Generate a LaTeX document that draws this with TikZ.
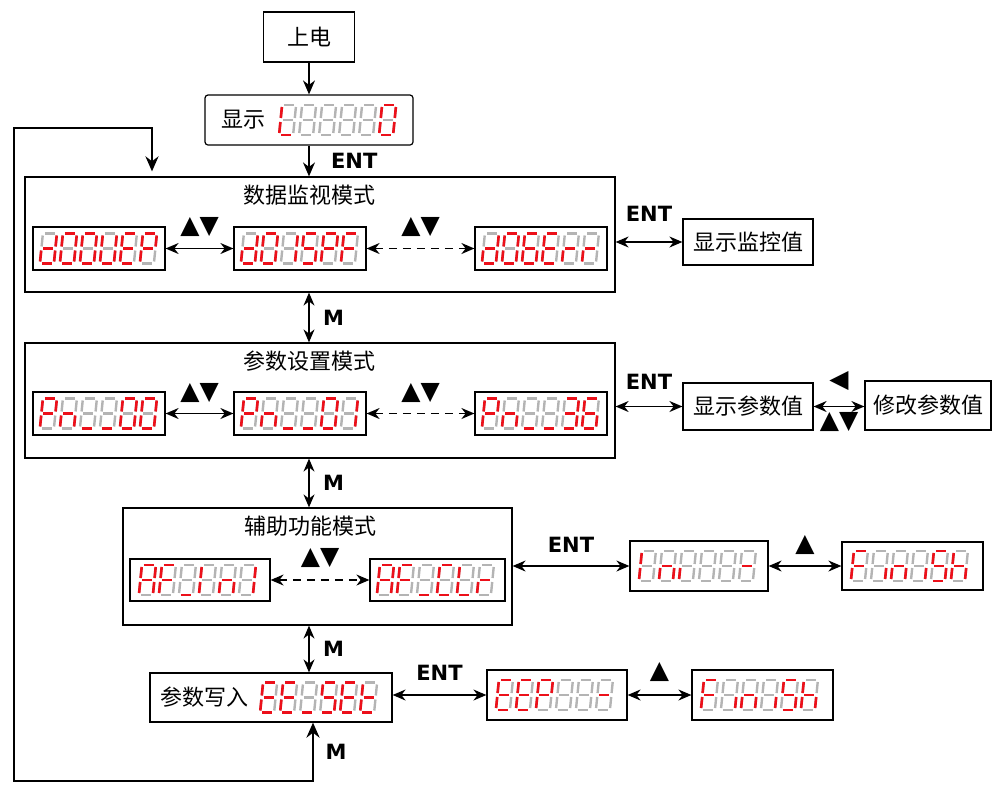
\documentclass[tikz,border=0pt]{standalone}
\usepackage{fontspec}
\usepackage{tikz}
\usetikzlibrary{arrows.meta}
\usepackage{xcolor}

\newfontfamily\cjk{Noto Sans CJK SC}
\newfontfamily\symf{DejaVu Sans}
\definecolor{segred}{RGB}{236,16,26}
\definecolor{seggray}{RGB}{180,180,180}

% seven segments of one digit (y up)
\def\sga{(2,15) -- (12,15)}
\def\sgb{(14,13) -- (14,2)}
\def\sgc{(14,-2) -- (14,-13)}
\def\sgd{(2,-15) -- (12,-15)}
\def\sge{(0,-2) -- (0,-13)}
\def\sgf{(0,2) -- (0,13)}
\def\sgg{(2,0) -- (12,0)}
\def\sgx{}

\newcommand{\segrow}[2]{%
  \begin{scope}[shift={#1}, x=1pt, y=1pt, xslant=0.1]
    \foreach \dg [count=\i] in {#2} {
      \begin{scope}[xshift={(\i-1)*20pt}]
        \foreach \s in {a,b,c,d,e,f,g}
          \draw[segoff] \csname sg\s\endcsname;
        \foreach \s in \dg
          \draw[segon] \csname sg\s\endcsname;
      \end{scope}
    }
  \end{scope}}

\tikzset{
  box/.style={draw, line width=1.2pt, inner sep=0pt},
  dispbox/.style={box, minimum width=132pt, minimum height=43pt},
  cn/.style={font=\cjk\fontsize{22}{26}\selectfont},
  key/.style={font=\symf\bfseries\fontsize{21}{21}\selectfont},
  tri/.style={font=\symf\fontsize{25}{25}\selectfont, inner sep=0pt},
  dbl/.style={{Stealth[length=13pt,width=11pt]}-{Stealth[length=13pt,width=11pt]}, line width=1.5pt},
  dbldash/.style={dbl, dash pattern=on 8pt off 6pt},
  oneway/.style={-{Stealth[length=14pt,width=12pt]}, line width=1.5pt},
  loopline/.style={{Stealth[length=15pt,width=13pt]}-{Stealth[length=15pt,width=13pt]}, line width=2.4pt, shorten >=5pt},
  segoff/.style={seggray, line width=2.4pt},
  segon/.style={segred, line width=2.6pt}
}

\begin{document}
\begin{tikzpicture}[x=1pt, y=-1pt]
    \useasboundingbox (0,0) rectangle (993,785);

    % power on
    \node[box, cn, minimum width=91pt, minimum height=50pt] (pwr) at (309,37) {上电};
    \node[box, cn, rounded corners=3pt, minimum height=50pt, text width=176pt, inner xsep=16pt, align=left] (show) at (309,120) {显示};
    \segrow{([xshift=-133pt]show.east)}{{d,e,f},x,x,x,x,{a,b,c,d,e,f}}
    \draw[oneway] (pwr) -- (show);

    % data monitor mode
    \node[box, minimum width=590pt, minimum height=115pt] (mon) at (320,234.5) {};
    \node[cn] (monT) at (309,195) {数据监视模式};
    \node[dispbox] (dA) at (99,248.5) {};
    \node[dispbox] (dB) at (300,248.5) {};
    \node[dispbox] (dC) at (541,248.5) {};
    \segrow{([xshift=9pt]dA.west)}{{b,c,d,e,g},{a,b,c,d,e,f},{a,b,c,d,e,f},{b,c,d,e,f},{a,d,e,f,g},{a,b,e,f,g}}
    \segrow{([xshift=9pt]dB.west)}{{b,c,d,e,g},{a,b,c,d,e,f},{b,c},{a,c,d,f,g},{a,b,e,f,g},{a,e,f,g}}
    \segrow{([xshift=9pt]dC.west)}{{b,c,d,e,g},{a,b,c,d,e,f},{a,c,d,e,f,g},{a,d,e,f,g},{e,g},{e,g}}
    \draw[dbl] (dA) -- node[tri, above=11pt] {▲▼} (dB);
    \draw[dbldash] (dB) -- node[tri, above=11pt] {▲▼} (dC);
    \node[box, cn, minimum width=130pt, minimum height=46pt] (mv) at (748,242) {显示监控值};
    \draw[dbl] (mon.east |- mv.west) -- node[key, above=16pt] {ENT} (mv.west);
    \draw[oneway] (show) -- node[key, right=18pt] {ENT} (show.south |- mon.north);

    % parameter setting mode
    \node[box, minimum width=590pt, minimum height=115pt] (par) at (320,400.5) {};
    \node[cn] (parT) at (309,361) {参数设置模式};
    \node[dispbox] (pA) at (99,413.5) {};
    \node[dispbox] (pB) at (300,413.5) {};
    \node[dispbox] (pC) at (541,413.5) {};
    \segrow{([xshift=9pt]pA.west)}{{a,b,e,f,g},{c,e,g},{d},{d},{a,b,c,d,e,f},{a,b,c,d,e,f}}
    \segrow{([xshift=9pt]pB.west)}{{a,b,e,f,g},{c,e,g},{d},{d},{a,b,c,d,e,f},{b,c}}
    \segrow{([xshift=9pt]pC.west)}{{a,b,e,f,g},{c,e,g},{d},{d},{a,b,c,d,g},{a,c,d,e,f,g}}
    \draw[dbl] (pA) -- node[tri, above=10pt] {▲▼} (pB);
    \draw[dbldash] (pB) -- node[tri, above=10pt] {▲▼} (pC);
    \node[box, cn, minimum width=130pt, minimum height=47pt] (pv) at (748,406.5) {显示参数值};
    \node[box, cn, minimum width=126pt, minimum height=49pt] (pm) at (928,405.5) {修改参数值};
    \draw[dbl] (par.east |- pv.west) -- node[key, above=13pt] {ENT} (pv.west);
    \draw[dbl] (pv.east) -- node[tri, above=15pt] {◀} node[tri, below=5pt] {▲▼} (pv.east -| pm.west);
    \draw[dbl] (mon.south -| show.south) -- node[key, right=10pt] {M} (par.north -| show.south);

    % auxiliary function mode
    \node[box, minimum width=389pt, minimum height=117pt] (aux) at (317.5,566.5) {};
    \node[cn] (auxT) at (310,526) {辅助功能模式};
    \node[dispbox, minimum width=140pt, minimum height=42pt] (aA) at (200,580) {};
    \node[dispbox, minimum width=135pt, minimum height=42pt] (aB) at (437.5,580) {};
    \segrow{([xshift=11pt]aA.west)}{{a,b,c,e,f,g},{a,e,f,g},{d},{e,f},{c,e,g},{b,c}}
    \segrow{([xshift=9pt]aB.west)}{{a,b,c,e,f,g},{a,e,f,g},{d},{a,d,e,f},{d,e,f},{e,g}}
    \draw[dbldash] (aA) -- node[tri, above=12pt] {▲▼} (aB);
    \node[dispbox, minimum width=138pt, minimum height=50pt] (iA) at (699,566) {};
    \node[dispbox, minimum width=141pt, minimum height=48pt] (iF) at (912.5,566) {};
    \segrow{([xshift=11pt]iA.west)}{{e,f},{c,e,g},{e},x,x,{g}}
    \segrow{([xshift=11pt]iF.west)}{{a,e,f,g},{c},{c,e,g},{c},{a,c,d,f,g},{c,e,f,g}}
    \draw[dbl] (aux.east |- iA.west) -- node[key, above=9.5pt] {ENT} (iA.west);
    \draw[dbl] (iA) -- node[tri, above=11pt] {▲} (iF);
    \draw[dbl] (par.south -| show.south) -- node[key, right=10pt] {M} (aux.north -| show.south);

    % parameter write
    \node[box, cn, minimum height=49pt, text width=222pt, inner xsep=10pt, align=left] (write) at (271,697.5) {参数写入};
    \segrow{([xshift=-131pt]write.east)}{{a,d,e,f,g},{a,d,e,f,g},{d},{a,c,d,f,g},{a,d,e,f,g},{d,e,f,g}}
    \node[dispbox, minimum width=140pt, minimum height=50pt] (eA) at (557,695) {};
    \node[dispbox, minimum width=141pt, minimum height=50pt] (eF) at (762.5,695) {};
    \segrow{([xshift=11pt]eA.west)}{{a,d,e,f,g},{a,d,e,f,g},{a,b,e,f,g},x,x,{g}}
    \segrow{([xshift=11pt]eF.west)}{{a,e,f,g},{c},{c,e,g},{c},{a,c,d,f,g},{c,e,f,g}}
    \draw[dbl] (write.east |- eA.west) -- node[key, above=10.5pt] {ENT} (eA.west);
    \draw[dbl] (eA) -- node[tri, above=13pt] {▲} (eF);
    \draw[dbl] (aux.south -| show.south) -- node[key, right=10pt] {M} (write.north -| show.south);

    % return loop
    \coordinate (lp1) at (313,781);
    \coordinate (lp2) at (14,781);
    \coordinate (lp3) at (14,128);
    \coordinate (lp4) at (152,128);
    \draw[loopline] (write.south -| lp1) -- node[key, right=8pt] {M} (lp1) -- (lp2) -- (lp3) -- (lp4) -- (lp4 |- mon.north);
\end{tikzpicture}
\end{document}
